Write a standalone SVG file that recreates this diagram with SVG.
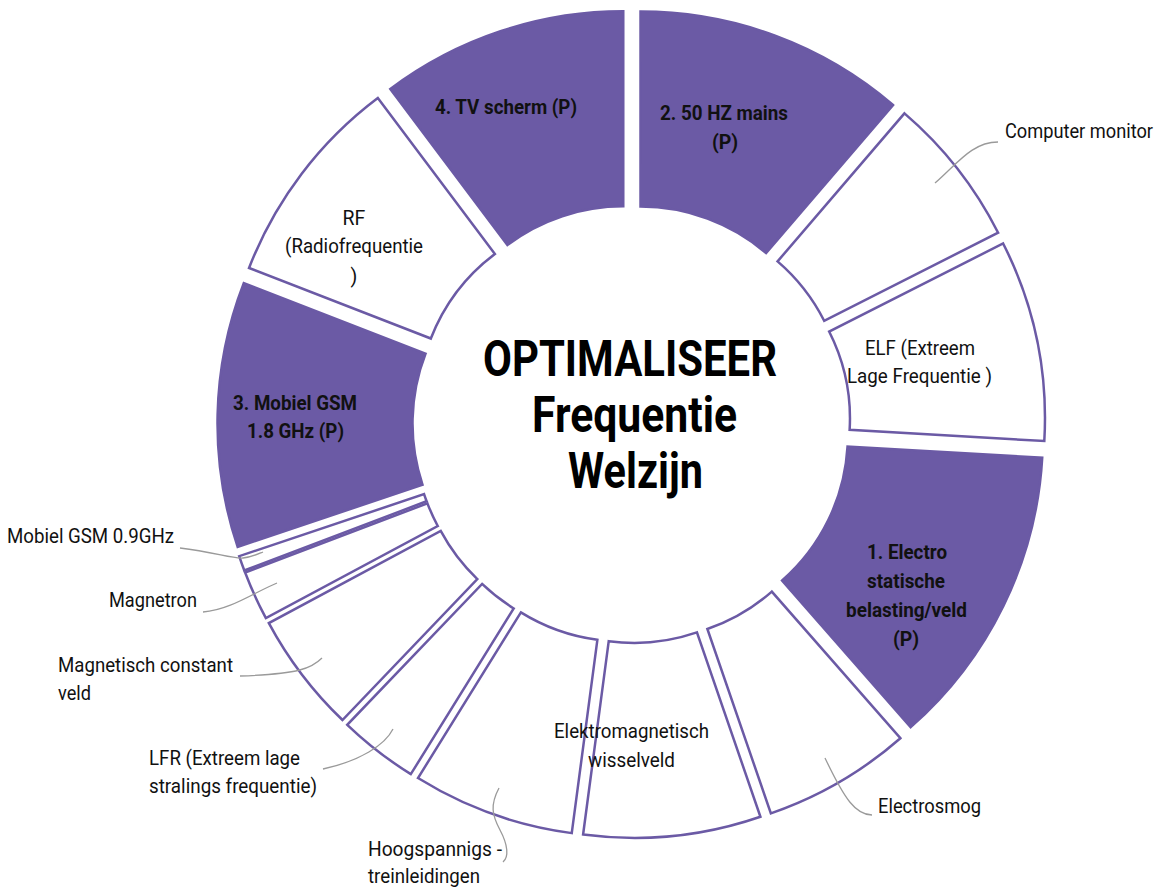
<svg xmlns="http://www.w3.org/2000/svg" width="1163" height="892" viewBox="0 0 1163 892">
  <style>
    .seg { stroke: #6b5aa5; stroke-width: 2.5; stroke-linejoin: miter; }
    .hot { fill: #6b5aa5; }
    .cold { fill: #ffffff; }
    .lbl { font-family: Roboto, "Liberation Sans", sans-serif; font-size: 19.5px; fill: #111111; }
    .bold { font-weight: bold; }
    .mid { text-anchor: middle; }
    .title { font-family: Roboto, "Liberation Sans", sans-serif; font-size: 50px; font-weight: bold; fill: #000000; text-anchor: middle; }
    .leader { fill: none; stroke: #9a9a9a; stroke-width: 1.3; }
  </style>
  <rect width="1163" height="892" fill="#ffffff"/>

  <!-- ring segments: each sector is drawn with its bisector pointing up, then pushed outward 26px and rotated into place -->
  <g id="seg-50hz">
    <path class="seg hot" transform="translate(631.5 424) rotate(20.3) translate(0 -26)" d="M-134.61,-363.90 A388,388 0 0 1 134.61,-363.90 L66.96,-181.01 A193,193 0 0 0 -66.96,-181.01 Z"/>
    <text class="lbl bold mid" x="724" y="120" textLength="128" lengthAdjust="spacingAndGlyphs">2. 50 HZ mains</text>
    <text class="lbl bold mid" x="725" y="149">(P)</text>
  </g>
  <g id="seg-computer-monitor">
    <path class="seg cold" transform="translate(631.5 424) rotate(51.875) translate(0 -26)" d="M-75.86,-380.52 A388,388 0 0 1 75.86,-380.52 L37.74,-189.28 A193,193 0 0 0 -37.74,-189.28 Z"/>
    <text class="lbl" x="1005" y="138" textLength="148" lengthAdjust="spacingAndGlyphs">Computer monitor</text>
  </g>
  <g id="seg-elf">
    <path class="seg cold" transform="translate(631.5 424) rotate(78.225) translate(0 -26)" d="M-100.91,-374.65 A388,388 0 0 1 100.91,-374.65 L50.20,-186.36 A193,193 0 0 0 -50.20,-186.36 Z"/>
    <text class="lbl mid" x="920" y="355" textLength="110" lengthAdjust="spacingAndGlyphs">ELF (Extreem</text>
    <text class="lbl mid" x="919.5" y="383" textLength="145" lengthAdjust="spacingAndGlyphs">Lage Frequentie )</text>
  </g>
  <g id="seg-electrostatisch">
    <path class="seg hot" transform="translate(631.5 424) rotate(116.025) translate(0 -26)" d="M-149.89,-357.88 A388,388 0 0 1 149.89,-357.88 L74.56,-178.02 A193,193 0 0 0 -74.56,-178.02 Z"/>
    <text class="lbl bold mid" x="907" y="559" textLength="80" lengthAdjust="spacingAndGlyphs">1. Electro</text>
    <text class="lbl bold mid" x="906" y="588" textLength="78" lengthAdjust="spacingAndGlyphs">statische</text>
    <text class="lbl bold mid" x="906.5" y="617" textLength="121" lengthAdjust="spacingAndGlyphs">belasting/veld</text>
    <text class="lbl bold mid" x="906" y="646">(P)</text>
  </g>
  <g id="seg-electrosmog">
    <path class="seg cold" transform="translate(631.5 424) rotate(149.875) translate(0 -26)" d="M-74.86,-380.71 A388,388 0 0 1 74.86,-380.71 L37.24,-189.37 A193,193 0 0 0 -37.24,-189.37 Z"/>
    <text class="lbl" x="878" y="813" textLength="103" lengthAdjust="spacingAndGlyphs">Electrosmog</text>
  </g>
  <g id="seg-hoogspanning">
    <path class="seg cold" transform="translate(631.5 424) rotate(199.7) translate(0 -26)" d="M-81.66,-379.31 A388,388 0 0 1 81.66,-379.31 L40.62,-188.68 A193,193 0 0 0 -40.62,-188.68 Z"/>
    <text class="lbl" x="368" y="856" textLength="134" lengthAdjust="spacingAndGlyphs">Hoogspannigs -</text>
    <text class="lbl" x="368" y="883" textLength="112" lengthAdjust="spacingAndGlyphs">treinleidingen</text>
  </g>
  <!-- drawn after its neighbour so its label can run across the gap -->
  <g id="seg-wisselveld">
    <path class="seg cold" transform="translate(631.5 424) rotate(174.275) translate(0 -26)" d="M-89.10,-377.64 A388,388 0 0 1 89.10,-377.64 L44.32,-187.84 A193,193 0 0 0 -44.32,-187.84 Z"/>
    <text class="lbl mid" x="631.5" y="738" textLength="155" lengthAdjust="spacingAndGlyphs">Elektromagnetisch</text>
    <text class="lbl mid" x="631.5" y="767" textLength="87" lengthAdjust="spacingAndGlyphs">wisselveld</text>
  </g>
  <g id="seg-lfr">
    <path class="seg cold" transform="translate(631.5 424) rotate(217.8) translate(0 -26)" d="M-40.22,-385.91 A388,388 0 0 1 40.22,-385.91 L20.01,-191.96 A193,193 0 0 0 -20.01,-191.96 Z"/>
    <text class="lbl" x="149" y="765" textLength="151" lengthAdjust="spacingAndGlyphs">LFR (Extreem lage</text>
    <text class="lbl" x="149" y="793" textLength="168" lengthAdjust="spacingAndGlyphs">stralings frequentie)</text>
  </g>
  <g id="seg-magnetisch">
    <path class="seg cold" transform="translate(631.5 424) rotate(232.775) translate(0 -26)" d="M-60.86,-383.20 A388,388 0 0 1 60.86,-383.20 L30.27,-190.61 A193,193 0 0 0 -30.27,-190.61 Z"/>
    <text class="lbl" x="58" y="672" textLength="175" lengthAdjust="spacingAndGlyphs">Magnetisch constant</text>
    <text class="lbl" x="58" y="700" textLength="33" lengthAdjust="spacingAndGlyphs">veld</text>
  </g>
  <g id="seg-magnetron">
    <path class="seg cold" transform="translate(631.5 424) rotate(245.5) translate(0 -26)" d="M-25.04,-387.19 A388,388 0 0 1 25.04,-387.19 L12.45,-192.60 A193,193 0 0 0 -12.45,-192.60 Z"/>
    <text class="lbl" x="109" y="607" textLength="88" lengthAdjust="spacingAndGlyphs">Magnetron</text>
  </g>
  <g id="seg-gsm-09">
    <path class="seg cold" transform="translate(631.5 424) rotate(250.325) translate(0 -26)" d="M-7.62,-387.93 A388,388 0 0 1 7.62,-387.93 L3.79,-192.96 A193,193 0 0 0 -3.79,-192.96 Z"/>
    <text class="lbl" x="7" y="543" textLength="167" lengthAdjust="spacingAndGlyphs">Mobiel GSM 0.9GHz</text>
  </g>
  <g id="seg-gsm-18">
    <path class="seg hot" transform="translate(631.5 424) rotate(271.325) translate(0 -26)" d="M-131.91,-364.89 A388,388 0 0 1 131.91,-364.89 L65.61,-181.50 A193,193 0 0 0 -65.61,-181.50 Z"/>
    <text class="lbl bold mid" x="295" y="410" textLength="124" lengthAdjust="spacingAndGlyphs">3. Mobiel GSM</text>
    <text class="lbl bold mid" x="295.5" y="438" textLength="97" lengthAdjust="spacingAndGlyphs">1.8 GHz (P)</text>
  </g>
  <g id="seg-rf">
    <path class="seg cold" transform="translate(631.5 424) rotate(307.15) translate(0 -26)" d="M-106.62,-373.06 A388,388 0 0 1 106.62,-373.06 L53.04,-185.57 A193,193 0 0 0 -53.04,-185.57 Z"/>
    <text class="lbl mid" x="354" y="225">RF</text>
    <text class="lbl mid" x="354" y="253" textLength="138" lengthAdjust="spacingAndGlyphs">(Radiofrequentie</text>
    <text class="lbl mid" x="354" y="283">)</text>
  </g>
  <g id="seg-tv">
    <path class="seg hot" transform="translate(631.5 424) rotate(341.55) translate(0 -26)" d="M-122.79,-368.06 A388,388 0 0 1 122.79,-368.06 L61.08,-183.08 A193,193 0 0 0 -61.08,-183.08 Z"/>
    <text class="lbl bold mid" x="506" y="114" textLength="142" lengthAdjust="spacingAndGlyphs">4. TV scherm (P)</text>
  </g>

  <!-- centre title -->
  <g id="title">
    <text class="title" x="630" y="376" textLength="294" lengthAdjust="spacingAndGlyphs">OPTIMALISEER</text>
    <text class="title" x="634.5" y="432" textLength="205" lengthAdjust="spacingAndGlyphs">Frequentie</text>
    <text class="title" x="635.5" y="488" textLength="135" lengthAdjust="spacingAndGlyphs">Welzijn</text>
  </g>

  <!-- leader lines from outside labels into their segments -->
  <g id="leaders">
    <path class="leader" d="M998,142 C972,142 957,164 935,183"/>
    <path class="leader" d="M872,815 C856,815 845,800 825,758"/>
    <path class="leader" d="M499,788 C490,805 492,815 500,830 C508,845 509,857 503,862"/>
    <path class="leader" d="M393,729 C385,745 360,761 323,769"/>
    <path class="leader" d="M322,658 C312,668 300,674 240,676"/>
    <path class="leader" d="M277,583 C255,592 230,610 203,612"/>
    <path class="leader" d="M180,548 C215,552 232,559 243,558 C252,557 258,554 263,552"/>
  </g>
</svg>
